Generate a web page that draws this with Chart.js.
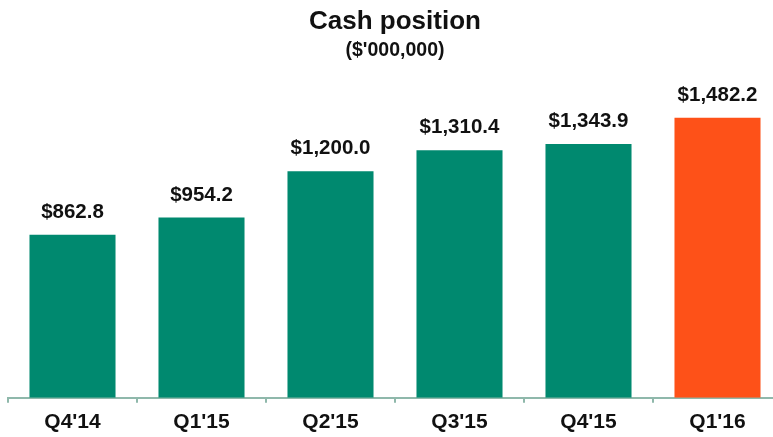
<!DOCTYPE html>
<html>
<head>
<meta charset="utf-8">
<script src="https://cdn.jsdelivr.net/npm/chart.js@4/dist/chart.umd.min.js"></script>
<style>
  html, body { margin: 0; padding: 0; background: #fff; overflow: hidden; }
  #wrap { width: 790px; height: 444px; position: relative; }
</style>
</head>
<body>
<div id="wrap"><canvas id="cashChart"></canvas></div>
<script>
const quarters = ["Q4'14", "Q1'15", "Q2'15", "Q3'15", "Q4'15", "Q1'16"];
const cash = [862.8, 954.2, 1200.0, 1310.4, 1343.9, 1482.2];
const barColors = ['#00896f', '#00896f', '#00896f', '#00896f', '#00896f', '#fe5118'];

const FONT = '"Liberation Sans", Arial, sans-serif';

// draws the $ values above each bar
const valueLabels = {
    id: 'valueLabels',
    afterDatasetsDraw(chart) {
        const ctx = chart.ctx;
        const meta = chart.getDatasetMeta(0);
        ctx.save();
        ctx.font = 'bold 20.5px ' + FONT;
        ctx.fillStyle = '#111';
        ctx.textAlign = 'center';
        ctx.textBaseline = 'alphabetic';
        meta.data.forEach(function (bar, i) {
            const v = cash[i].toLocaleString('en-US', { minimumFractionDigits: 1, maximumFractionDigits: 1 });
            ctx.fillText('$' + v, bar.x, bar.y - 17);
        });
        ctx.restore();
    }
};

new Chart(document.getElementById('cashChart'), {
    type: 'bar',
    data: {
        labels: quarters,
        datasets: [{
            data: cash,
            backgroundColor: barColors,
            barPercentage: 0.667,
            categoryPercentage: 1.0
        }]
    },
    options: {
        responsive: true,
        maintainAspectRatio: false,
        animation: false,
        layout: { padding: { left: 8, right: 8, top: 0, bottom: 2 } },
        scales: {
            x: {
                offset: true,
                grid: {
                    offset: true,
                    drawOnChartArea: false,
                    drawTicks: true,
                    tickLength: 5,
                    color: '#8fb8ab',
                    lineWidth: 2
                },
                border: { color: '#8fb8ab', width: 2 },
                ticks: {
                    color: '#111',
                    padding: 7,
                    font: { family: FONT, size: 21, weight: 'bold' }
                }
            },
            y: { display: false, min: 0, max: 1600 }
        },
        plugins: {
            legend: { display: false },
            tooltip: { enabled: false },
            title: {
                display: true,
                text: 'Cash position',
                color: '#111',
                padding: { top: 6, bottom: 2 },
                font: { family: FONT, size: 26, weight: 'bold' }
            },
            subtitle: {
                display: true,
                text: "($'000,000)",
                color: '#111',
                padding: { top: 0, bottom: 33 },
                font: { family: FONT, size: 19.5, weight: 'bold' }
            }
        }
    },
    plugins: [valueLabels]
});
</script>
</body>
</html>
